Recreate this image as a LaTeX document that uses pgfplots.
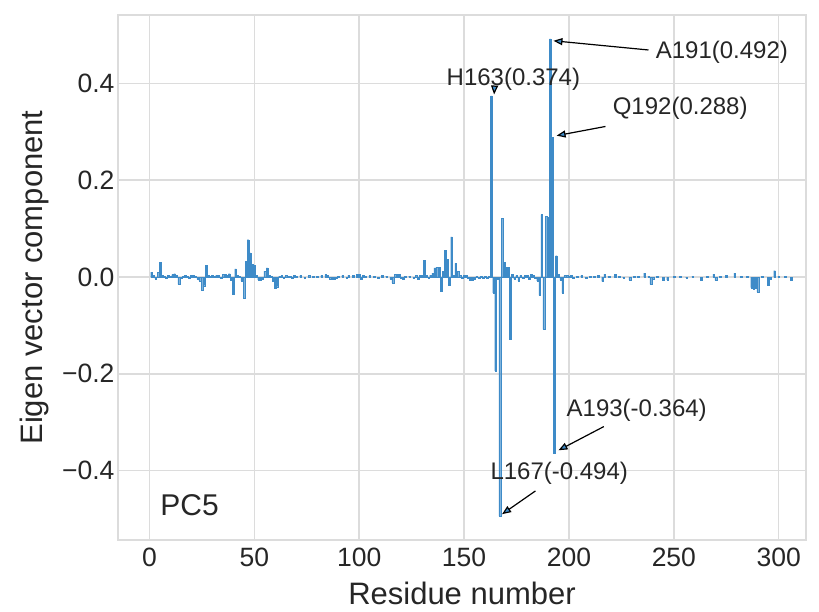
\documentclass[border=0pt]{standalone}
\usepackage{pgfplots}
\pgfplotsset{compat=1.18}
\usepackage{pgfplotstable}
\usepackage{fontspec}
\setmainfont{Liberation Sans}
\usetikzlibrary{arrows.meta}
\definecolor{barblue}{HTML}{3E8BC8}
\definecolor{gridgray}{HTML}{DCDCDC}
\definecolor{txt}{HTML}{262626}
\pgfplotstableread{
res val
1 0.010
2 0.003
3 -0.004
4 0.010
5 0.031
6 0.004
7 0.002
8 -0.003
9 0.003
10 0.002
11 0.005
12 0.007
13 0.003
14 -0.015
15 -0.003
16 0.002
17 0.003
18 0.002
19 -0.003
20 0.004
21 0.003
22 0.002
23 -0.005
24 -0.008
25 -0.028
26 -0.018
27 0.024
28 0.004
29 0.002
30 0.003
31 0.002
32 0.004
33 0.003
34 -0.003
35 0.005
36 0.006
37 0.004
38 0.007
39 -0.006
40 -0.036
41 0.017
42 0.004
43 0.002
44 -0.008
45 -0.043
46 0.033
47 0.077
48 0.050
49 0.026
50 0.024
51 0.003
52 -0.006
53 -0.007
54 -0.005
55 0.012
56 0.019
57 0.003
58 0.002
59 -0.008
60 -0.023
61 -0.020
62 0.002
63 0.003
64 -0.002
65 0.003
66 0.002
67 0.002
68 -0.002
69 0.003
70 0.002
72 0.003
74 -0.002
76 0.003
78 0.002
80 0.002
82 0.003
84 0.005
85 0.003
86 -0.004
87 -0.005
88 -0.004
89 -0.003
90 0.002
92 0.003
94 -0.002
95 0.004
97 0.004
99 0.005
100 0.006
101 -0.004
102 0.004
103 0.002
105 0.003
107 0.002
109 -0.002
111 0.003
113 0.002
115 -0.005
116 -0.012
117 0.006
118 0.006
119 0.005
120 -0.002
121 -0.004
122 0.002
124 0.002
126 -0.003
127 0.003
128 -0.004
129 0.004
130 0.003
131 0.035
132 0.003
133 -0.002
134 0.004
135 0.008
136 0.019
137 0.020
138 0.020
139 -0.029
140 0.012
141 0.055
142 0.037
143 -0.016
144 0.083
145 0.003
146 0.028
147 0.012
148 0.003
149 -0.002
150 0.004
151 0.003
152 -0.002
153 -0.006
154 -0.006
155 -0.004
156 0.002
157 -0.003
158 0.002
159 -0.002
160 0.002
161 -0.003
162 0.002
163 0.374
164 -0.033
165 -0.194
166 -0.004
167 -0.494
168 0.121
169 0.031
170 0.020
171 0.020
172 -0.129
173 0.005
174 -0.004
175 0.003
176 -0.008
177 0.004
178 -0.003
179 0.004
180 0.003
181 -0.005
182 0.005
183 0.004
184 -0.003
185 -0.008
186 -0.038
187 0.129
188 -0.108
189 0.125
190 0.123
191 0.492
192 0.288
193 -0.364
194 0.044
195 0.005
196 -0.006
197 -0.033
198 0.003
199 0.004
200 0.002
201 0.004
202 -0.002
204 0.002
206 0.003
208 -0.002
210 0.002
212 0.002
214 0.003
216 -0.009
217 0.006
219 0.002
222 0.005
224 0.002
226 -0.002
229 -0.006
231 0.002
233 0.002
236 0.008
238 0.002
239 -0.015
240 -0.004
242 0.002
245 -0.007
247 -0.006
250 0.002
253 0.002
256 -0.002
259 0.002
263 -0.006
266 0.002
269 0.006
270 -0.007
272 0.002
275 0.003
279 0.008
282 0.002
285 0.002
287 -0.022
288 -0.024
289 -0.022
290 -0.031
292 0.002
295 -0.016
296 -0.004
298 0.013
300 0.002
303 0.002
306 -0.007
}\pcfive
\begin{document}
\begin{tikzpicture}
\useasboundingbox (0,0) rectangle (819pt,612pt);
\begin{axis}[
  at={(118pt,72pt)}, anchor=south west,
  scale only axis, width=688pt, height=525pt,
  xmin=-15, xmax=313, ymin=-0.5433, ymax=0.5413,
  xtick={0,50,100,150,200,250,300},
  xticklabels={0,50,100,150,200,250,300},
  ytick={-0.4,-0.2,0,0.2,0.4},
  yticklabels={−0.4,−0.2,0.0,0.2,0.4},
  grid=major,
  major grid style={gridgray, line width=1.5pt},
  axis line style={gridgray, line width=1.6pt},
  major tick length=0pt,
  tick label style={font=\fontsize{26.5}{30}\selectfont, text=txt},
  xticklabel style={yshift=-4pt},
  xlabel={Residue number},
  ylabel={Eigen vector component},
  label style={font=\fontsize{31}{36}\selectfont, text=txt},
  xlabel style={at={(axis description cs:0.5,0)}, anchor=center, yshift=-53pt},
  ylabel style={at={(axis description cs:-0.1221,0.5)}, anchor=center},
  clip=false,
]
\addplot[ybar, bar width=0.8, fill=barblue, draw=barblue, line width=0.2pt] table[x=res, y=val] {\pcfive};

\tikzset{ann/.style={font=\fontsize{24}{28}\selectfont, text=txt, inner sep=0pt},
         arr/.style={line width=1.2pt, black, -{Triangle[length=9pt,width=7pt,fill=barblue]}}}
\node[ann, anchor=west] at (axis cs:241.3,0.465) {A191(0.492)};
\draw[arr] (axis cs:237.9,0.469) -- (axis cs:192.6,0.488);
\node[ann, anchor=center] at (axis cs:173.5,0.409) {H163(0.374)};
\draw[arr] (axis cs:164.5,0.392) -- (axis cs:164.3,0.377);
\node[ann, anchor=west] at (axis cs:220.8,0.349) {Q192(0.288)};
\draw[arr] (axis cs:217.4,0.311) -- (axis cs:194.1,0.292);
\node[ann, anchor=west] at (axis cs:198.8,-0.275) {A193(-0.364)};
\draw[arr] (axis cs:216.6,-0.309) -- (axis cs:195.0,-0.358);
\node[ann, anchor=west] at (axis cs:162.5,-0.405) {L167(-0.494)};
\draw[arr] (axis cs:184.0,-0.442) -- (axis cs:168.1,-0.490);
\node[font=\fontsize{30}{34}\selectfont, text=txt, inner sep=0pt, anchor=west] at (axis cs:5.1,-0.471) {PC5};
\end{axis}
\end{tikzpicture}
\end{document}
